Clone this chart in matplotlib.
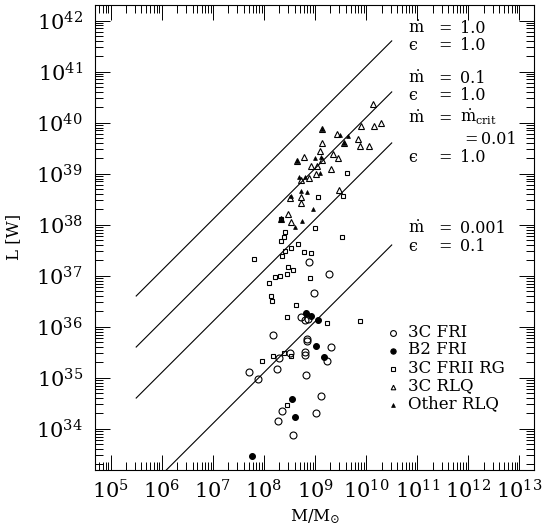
import numpy as np
import matplotlib
matplotlib.use('Agg')
import matplotlib.pyplot as plt
from matplotlib.ticker import FixedLocator, LogLocator, FuncFormatter, NullFormatter

plt.rcParams['font.family'] = ['DejaVu Serif', 'DejaVu Sans']
plt.rcParams['mathtext.fontset'] = 'dejavuserif'

# ---- data: log10(M/Msun), log10(L/W) ----
fri3c_logM = [8.89, 9.28, 8.97, 8.73, 8.81, 8.86, 8.17, 8.84, 8.84, 9.31, 8.29, 8.50,
              8.80, 8.81, 9.23, 8.26, 7.71, 7.89, 8.83, 9.12, 8.35, 9.01, 8.28, 8.57]
fri3c_logL = [37.27, 37.03, 36.66, 36.19, 36.13, 36.14, 35.84, 35.76, 35.71, 35.60, 35.39, 35.48,
              35.51, 35.44, 35.33, 35.17, 35.12, 34.98, 35.05, 34.64, 34.35, 34.31, 34.15, 33.88]

b2fri_logM = [8.82, 8.93, 9.06, 9.01, 9.18, 8.55, 8.60, 7.77]
b2fri_logL = [36.27, 36.21, 36.13, 35.63, 35.40, 34.58, 34.22, 33.46]

frii_logM = [9.63, 9.06, 9.55, 8.33, 8.99, 9.52, 8.41, 8.39, 8.33, 8.67, 8.42, 8.53,
             8.35, 8.79, 8.92, 7.80, 8.48, 8.57, 8.46, 8.32, 8.22, 8.90, 8.09, 8.14,
             8.16, 8.63, 8.45, 9.23, 9.87, 8.40, 8.53, 8.17, 7.96, 8.45]
frii_logL = [39.01, 38.55, 38.56, 38.10, 37.94, 37.75, 37.86, 37.75, 37.67, 37.61, 37.49, 37.54,
             37.39, 37.46, 37.44, 37.32, 37.16, 37.11, 37.04, 37.00, 36.98, 36.95, 36.85, 36.61,
             36.50, 36.43, 36.19, 36.08, 36.11, 35.49, 35.43, 35.43, 35.33, 34.47]

rlq3c_logM = [10.14, 9.90, 10.16, 10.29, 9.42, 9.14, 9.84, 9.88, 10.05, 9.56, 9.14, 9.10,
              9.36, 9.44, 8.78, 9.14, 8.92, 9.03, 9.31, 9.02, 8.73, 8.89, 9.47, 8.73,
              8.73, 8.50, 8.48, 8.52, 8.34, 8.64]
rlq3c_logL = [40.37, 39.93, 39.94, 40.00, 39.78, 39.87, 39.68, 39.55, 39.55, 39.59, 39.59, 39.45,
              39.38, 39.30, 39.32, 39.27, 39.15, 39.15, 39.09, 39.00, 38.88, 38.92, 38.68, 38.54,
              38.43, 38.53, 38.21, 38.05, 38.10, 39.25]

orlq_logM = [9.14, 9.49, 9.64, 9.56, 8.64, 8.99, 9.12, 8.69, 8.80, 9.09, 8.73, 8.84,
             8.52, 8.96, 8.75, 8.61, 8.34]
orlq_logL = [39.87, 39.75, 39.73, 39.59, 39.24, 39.30, 39.32, 38.94, 38.94, 39.01, 38.66, 38.64,
             38.56, 38.31, 38.08, 37.95, 38.10]

# model lines: L = eps * mdot * L_Edd(M)
line_mdot = [1.0, 0.1, 0.01, 0.001]
line_eps = [1.0, 1.0, 1.0, 0.1]
L_edd_per_msun = 1.26e31  # W
line_logM_range = [5.5, 10.5]

series_labels = ['3C FRI', 'B2 FRI', '3C FRII RG', '3C RLQ', 'Other RLQ']
x_tick_exp = list(range(5, 14))
y_tick_exp = list(range(34, 43))

# ---- figure ----
W, H = 545, 529
fig = plt.figure(figsize=(W / 100, H / 100), dpi=100)
L, R, T, B = 95.3, 534.3, 4.7, 469.5
ax = fig.add_axes([L / W, 1 - B / H, (R - L) / W, (B - T) / H])
ax.set_xscale('log')
ax.set_yscale('log')
ax.set_xlim(10 ** 4.7, 10 ** 13.29)
ax.set_ylim(10 ** 33.2, 10 ** 42.31)

def axx(px):
    return (px - L) / (R - L)

def axy(py):
    return (B - py) / (B - T)

# lines
Mline = 10 ** np.array(line_logM_range)
for md, ep in zip(line_mdot, line_eps):
    ax.plot(Mline, ep * md * L_edd_per_msun * Mline, color='black', lw=0.8)

mew = 0.8
ax.plot(10 ** np.array(fri3c_logM), 10 ** np.array(fri3c_logL), 'o', ms=5.0,
        mfc='none', mec='black', mew=mew)
ax.plot(10 ** np.array(b2fri_logM), 10 ** np.array(b2fri_logL), 'o', ms=4.2,
        mfc='black', mec='black', mew=mew)
ax.plot(10 ** np.array(frii_logM), 10 ** np.array(frii_logL), 's', ms=3.2,
        mfc='none', mec='black', mew=mew)
ax.plot(10 ** np.array(rlq3c_logM), 10 ** np.array(rlq3c_logL), '^', ms=3.8,
        mfc='none', mec='black', mew=mew)
ax.plot(10 ** np.array(orlq_logM), 10 ** np.array(orlq_logL), '^', ms=2.8,
        mfc='black', mec='black', mew=0.5)

# ticks
fmt = FuncFormatter(lambda v, p: r'$10^{%d}$' % int(round(np.log10(v))))
ax.xaxis.set_major_locator(FixedLocator([10.0 ** e for e in x_tick_exp]))
ax.yaxis.set_major_locator(FixedLocator([10.0 ** e for e in y_tick_exp]))
for axis in (ax.xaxis, ax.yaxis):
    axis.set_minor_locator(LogLocator(base=10, subs=np.arange(2, 10), numticks=100))
    axis.set_minor_formatter(NullFormatter())
    axis.set_major_formatter(fmt)
ax.tick_params(which='both', direction='in', top=True, right=True, width=0.7)
ax.tick_params(which='major', length=11, labelsize=15)
ax.tick_params(which='minor', length=5.5)
ax.tick_params(axis='x', which='major', pad=7)
ax.tick_params(axis='y', which='major', pad=9)
for sp in ax.spines.values():
    sp.set_linewidth(0.8)

ax.set_xlabel(r'$\mathrm{M/M}_{\odot}$', fontsize=12)
ax.set_ylabel('L [W]', fontsize=12)
ax.xaxis.set_label_coords(0.5, axy(507))
ax.yaxis.set_label_coords(axx(22), 0.5)

# annotations
fs = 11.5
eps_sym = '\u03f5'
mdot = r'$\dot{\mathrm{m}}$'
rows = [
    (mdot, '=', '1.0', 33.3),
    (eps_sym, '=', '1.0', 50.0),
    (mdot, '=', '0.1', 82.7),
    (eps_sym, '=', '1.0', 100.0),
    (mdot, '=', r'$\dot{\mathrm{m}}_{\mathrm{crit}}$', 122.7),
    (eps_sym, '=', '1.0', 161.7),
    (mdot, '=', '0.001', 233.3),
    (eps_sym, '=', '0.1', 251.0),
]
for sym, eq, val, yb in rows:
    ax.text(axx(408), axy(yb), sym, transform=ax.transAxes, fontsize=fs, ha='left', va='baseline')
    ax.text(axx(438), axy(yb), eq, transform=ax.transAxes, fontsize=fs, ha='left', va='baseline')
    ax.text(axx(460), axy(yb), val, transform=ax.transAxes, fontsize=fs, ha='left', va='baseline')
ax.text(axx(464), axy(144.3), '=', transform=ax.transAxes, fontsize=fs, ha='left', va='baseline')
ax.text(axx(481), axy(144.3), '0.01', transform=ax.transAxes, fontsize=fs, ha='left', va='baseline')

# legend (manual)
leg_marker = [('o', 'none', 4.2, mew), ('o', 'black', 3.8, mew), ('s', 'none', 3.0, mew),
              ('^', 'none', 3.3, mew), ('^', 'black', 2.8, 0.5)]
leg_my = [333.3, 350.7, 369.0, 387.3, 405.0]
leg_ty = [336.7, 354.0, 372.7, 390.0, 408.3]
for (mk, fc, ms, ew), lab, my, ty in zip(leg_marker, series_labels, leg_my, leg_ty):
    ax.plot([axx(393.3)], [axy(my)], mk, ms=ms, mfc=fc, mec='black', mew=ew,
            transform=ax.transAxes, clip_on=False)
    ax.text(axx(408), axy(ty), lab, transform=ax.transAxes, fontsize=12,
            ha='left', va='baseline')

fig.savefig('out.png', dpi=100)
